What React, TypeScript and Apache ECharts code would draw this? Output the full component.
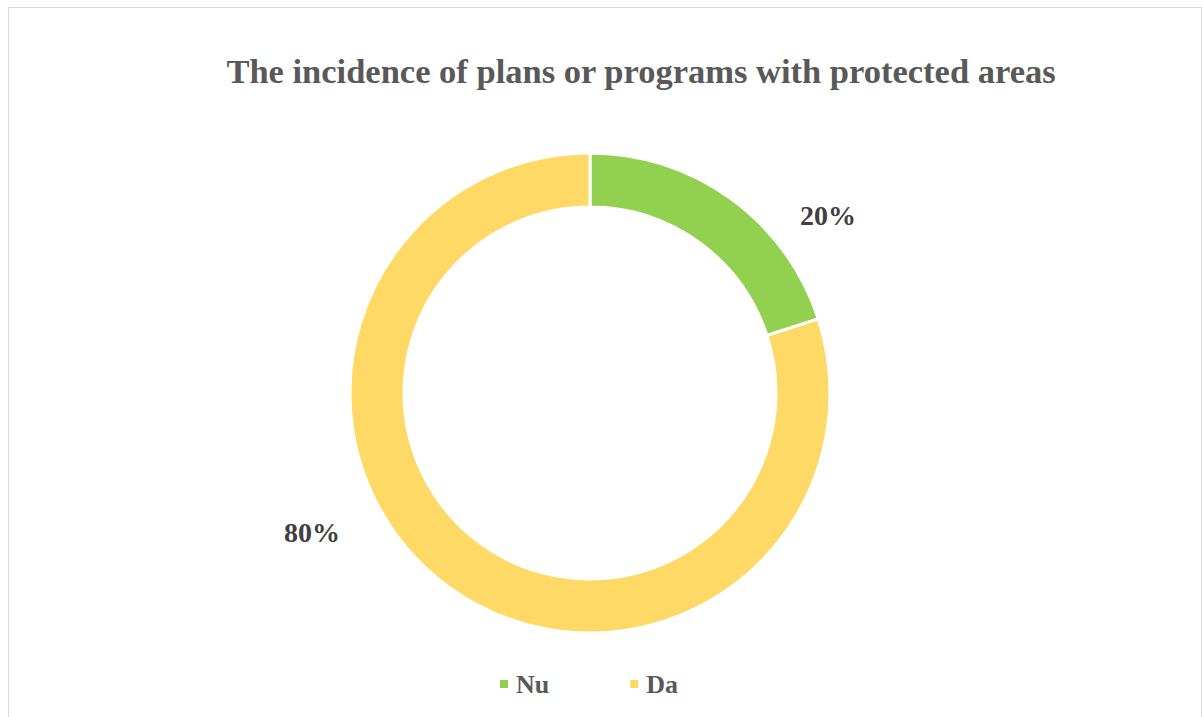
import React, { useEffect, useRef } from "react";
import * as echarts from "echarts";

const categories = ["Nu", "Da"];
const values = [20, 80];
const colors = ["#92D050", "#FFD966"];
const titleText = "The incidence of plans or programs with protected areas";
const serif = "'Liberation Serif', 'Times New Roman', serif";

export default function App() {
  const ref = useRef<HTMLDivElement>(null);
  useEffect(() => {
    if (!ref.current) return;
    const chart = echarts.init(ref.current, null, { renderer: "svg" });
    const labelPos = [
      [828, 215],
      [312, 532],
    ];
    chart.setOption({
      animation: false,
      backgroundColor: "#ffffff",
      title: {
        text: titleText,
        left: 636,
        top: 48,
        textAlign: "center",
        textStyle: {
          fontFamily: serif,
          fontWeight: "bold",
          fontSize: 34.5,
          color: "#595959",
        },
      },
      legend: {
        data: categories,
        left: 493,
        top: 666,
        itemWidth: 10,
        itemHeight: 10,
        itemGap: 79,
        icon: "rect",
        textStyle: {
          fontFamily: serif,
          fontWeight: "bold",
          fontSize: 26,
          color: "#595959",
          padding: [0, 0, 0, 2],
        },
      },
      graphic: [
        {
          type: "rect",
          shape: { x: 8.5, y: 7.5, width: 1193, height: 720 },
          style: { fill: "none", stroke: "#d9d9d9", lineWidth: 1 },
          silent: true,
        },
      ],
      series: [
        {
          type: "pie",
          center: [590, 393],
          radius: [186, 240],
          startAngle: 90,
          clockwise: true,
          itemStyle: { borderColor: "#ffffff", borderWidth: 3 },
          label: {
            show: true,
            position: "outside",
            formatter: "{d}%",
            fontFamily: serif,
            fontWeight: "bold",
            fontSize: 28,
            color: "#404040",
          },
          labelLine: { show: false },
          labelLayout: (p: any) => ({
            x: labelPos[p.dataIndex][0],
            y: labelPos[p.dataIndex][1],
            align: "center",
            verticalAlign: "middle",
          }),
          data: categories.map((c, i) => ({
            name: c,
            value: values[i],
            itemStyle: { color: colors[i] },
          })),
        },
      ],
    });
    return () => chart.dispose();
  }, []);
  return (
    <div
      ref={ref}
      style={{ position: "absolute", left: 0, top: 0, width: 1203, height: 717 }}
    />
  );
}
